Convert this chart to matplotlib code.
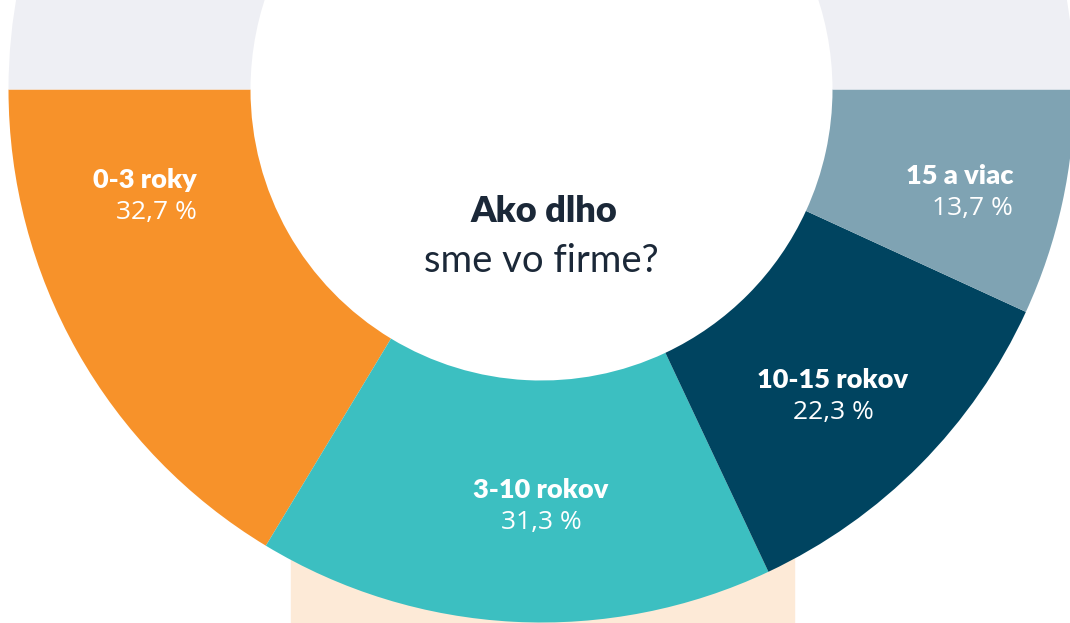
#!/usr/bin/env python3
"""Half donut: ako dlho sme vo firme"""

import matplotlib
matplotlib.use('Agg')
import matplotlib.pyplot as plt
from matplotlib.patches import Rectangle

categories = ['0-3 roky', '3-10 rokov', '10-15 rokov', '15 a viac']
shares = [32.7, 31.3, 22.3, 13.7]
colors = ['#F7922A', '#3CBFC1', '#004460', '#7FA3B3']
title_bold = 'Ako dlho'
title_rest = 'sme vo firme?'

W, H = 1070, 623
cx, cy = 541.5, H - 89.5
r_out, r_in = 533, 291

fig = plt.figure(figsize=(W / 100, H / 100), dpi=100)
ax = fig.add_axes([0, 0, 1, 1])

# peach block behind the ring
ax.add_patch(Rectangle((291, 0), 503, 90, color='#FDEAD7', zorder=0))

# upper half of ring is grey filler, so the four shares fill the lower half
vals = shares + [sum(shares)]
ax.pie(vals, radius=r_out, center=(cx, cy), startangle=180, counterclock=True,
       colors=colors + ['#EEEFF4'],
       wedgeprops=dict(width=r_out - r_in, linewidth=0, zorder=1))

ax.set_xlim(0, W)
ax.set_ylim(0, H)
ax.set_aspect('equal')
ax.axis('off')

ax.text(cx + 2, H - 212, title_bold, ha='center', va='center', fontsize=26,
        fontweight='heavy', family='Lato', color='#1B2838')
ax.text(cx, H - 261, title_rest, ha='center', va='center', fontsize=27.5,
        family='Lato', color='#1B2838')

# label anchors (x, y in image px) and alignment per segment
spots = [(197, 180, 'right'), (541, 490, 'center'),
         (833, 380, 'center'), (1013, 176, 'right')]
for cat, val, (x, y, ha) in zip(categories, shares, spots):
  ax.text(x, H - y, cat, ha=ha, va='center', fontsize=19.5, fontweight='heavy',
          family='Lato', color='white')
  ax.text(x, H - y - 32, f'{val:.1f}'.replace('.', ',') + ' %', ha=ha,
          va='center', fontsize=19, family='Open Sans', color='white')

fig.savefig('out.png', dpi=100)
